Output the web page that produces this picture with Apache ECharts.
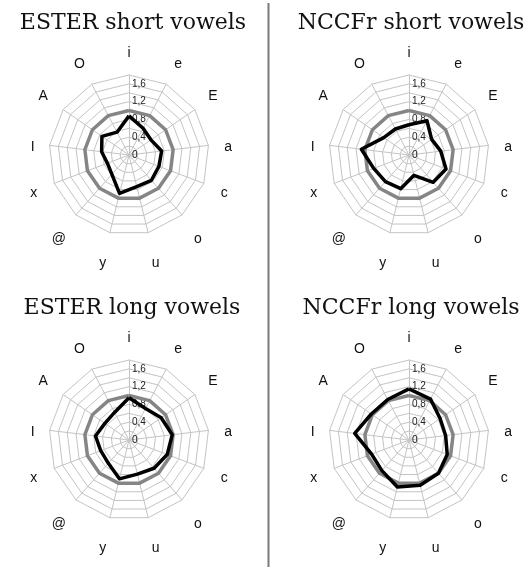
<!DOCTYPE html>
<html>
<head>
<meta charset="utf-8">
<script src="https://cdn.jsdelivr.net/npm/echarts@6/dist/echarts.min.js"></script>
<style>
  html, body { margin: 0; padding: 0; background: #fff; }
  #chart { width: 527px; height: 569px; }
</style>
</head>
<body>
<div id="chart"></div>
<script>
// vowel axes, clockwise from the top
const vowels = ['i', 'e', 'E', 'a', 'c', 'o', 'u', 'y', '@', 'x', 'I', 'A', 'O'];

const esterShort = [0.88, 0.68, 0.60, 0.74, 0.72, 0.76, 0.73, 0.89, 0.58, 0.52, 0.62, 0.74, 0.58];
const nccfrShort = [0.68, 0.87, 0.62, 0.72, 0.89, 0.82, 0.47, 0.78, 0.80, 0.85, 1.08, 0.69, 0.66];
const esterLong  = [0.95, 0.80, 0.88, 0.98, 0.92, 0.85, 0.79, 0.90, 0.70, 0.68, 0.76, 0.66, 0.70];
const nccfrLong  = [1.15, 1.04, 0.85, 0.83, 0.92, 1.00, 1.05, 1.09, 0.92, 0.90, 1.23, 1.03, 1.03];
const reference  = [1, 1, 1, 1, 1, 1, 1, 1, 1, 1, 1, 1, 1];

const titles = ['ESTER short vowels', 'NCCFr short vowels', 'ESTER long vowels', 'NCCFr long vowels'];
const tickLabels = ['0', '0,4', '0,8', '1,2', '1,6'];

const panels = [
  { title: titles[0], values: esterShort, cx: 129, cy: 155, tx: 128, ty: 7 },
  { title: titles[1], values: nccfrShort, cx: 409, cy: 155, tx: 406, ty: 7 },
  { title: titles[2], values: esterLong,  cx: 129, cy: 440, tx: 127, ty: 292 },
  { title: titles[3], values: nccfrLong,  cx: 409, cy: 440, tx: 406, ty: 292 },
];

// excel puts the vowel names a bit further out at the bottom; nudge them with padding
// [top, right, bottom, left], same order as vowels
const namePad = [
  [0, 0, 0, 0], [0, 0, 14, 1], [0, 0, 10, 1], [8, 0, 0, 1], [8, 0, 0, 3], [26, 0, 0, 2], [32, 0, 0, 0],
  [32, 0, 0, 0], [26, 0, 0, 0], [8, 3, 0, 0], [8, 0, 0, 0], [0, 3, 10, 0], [0, 0, 14, 0],
];

// echarts lays radar axes out counter-clockwise, so flip everything after the first
const cw = arr => [arr[0]].concat(arr.slice(1).reverse());

const fmtTick = v => {
  const s = (Math.round(v * 10) / 10).toString().replace('.', ',');
  return tickLabels.indexOf(s) >= 0 ? s : '';
};

const nameFont = { color: '#111', fontFamily: 'Liberation Sans', fontSize: 14 };
const rich = {};
vowels.forEach((v, i) => { rich['n' + i] = Object.assign({ padding: namePad[i] }, nameFont); });

const indicator = cw(vowels).map((name, i) => {
  const ind = { name, min: 0, max: 1.8 };
  if (i === 0) ind.axisLabel = { show: true };
  return ind;
});

const chart = echarts.init(document.getElementById('chart'), null, { renderer: 'canvas' });
chart.setOption({
  backgroundColor: '#fff',
  animation: false,
  title: panels.map(p => ({
    text: p.title, left: p.tx, top: p.ty, textAlign: 'center',
    textStyle: { fontFamily: 'DejaVu Serif', fontWeight: 'normal', fontSize: 22, color: '#111' },
  })),
  radar: panels.map(p => ({
    center: [p.cx, p.cy], radius: 80, startAngle: 90,
    shape: 'polygon', splitNumber: 9,
    indicator,
    axisName: Object.assign({
      formatter: name => '{n' + vowels.indexOf(name) + '|' + name + '}',
      rich,
    }, nameFont),
    nameGap: 15,
    axisLine: { lineStyle: { color: '#c4c4c4', width: 1 } },
    splitLine: { lineStyle: { color: '#c4c4c4', width: 1 } },
    splitArea: { show: false },
    axisTick: { show: false },
    axisLabel: {
      show: false, color: '#222', fontFamily: 'Liberation Sans', fontSize: 10,
      margin: -3, align: 'left',
      formatter: fmtTick,
    },
  })),
  graphic: [{
    type: 'line', shape: { x1: 268.5, y1: 3, x2: 268.5, y2: 567 },
    style: { stroke: '#7a7a7a', lineWidth: 2 },
  }],
  series: panels.map((p, k) => ({
    type: 'radar', radarIndex: k, symbol: 'none', silent: true,
    data: [
      { value: cw(reference), lineStyle: { color: '#858585', width: 3.5 } },
      { value: cw(p.values), lineStyle: { color: '#000', width: 3.5 } },
    ],
  })),
});
</script>
</body>
</html>
